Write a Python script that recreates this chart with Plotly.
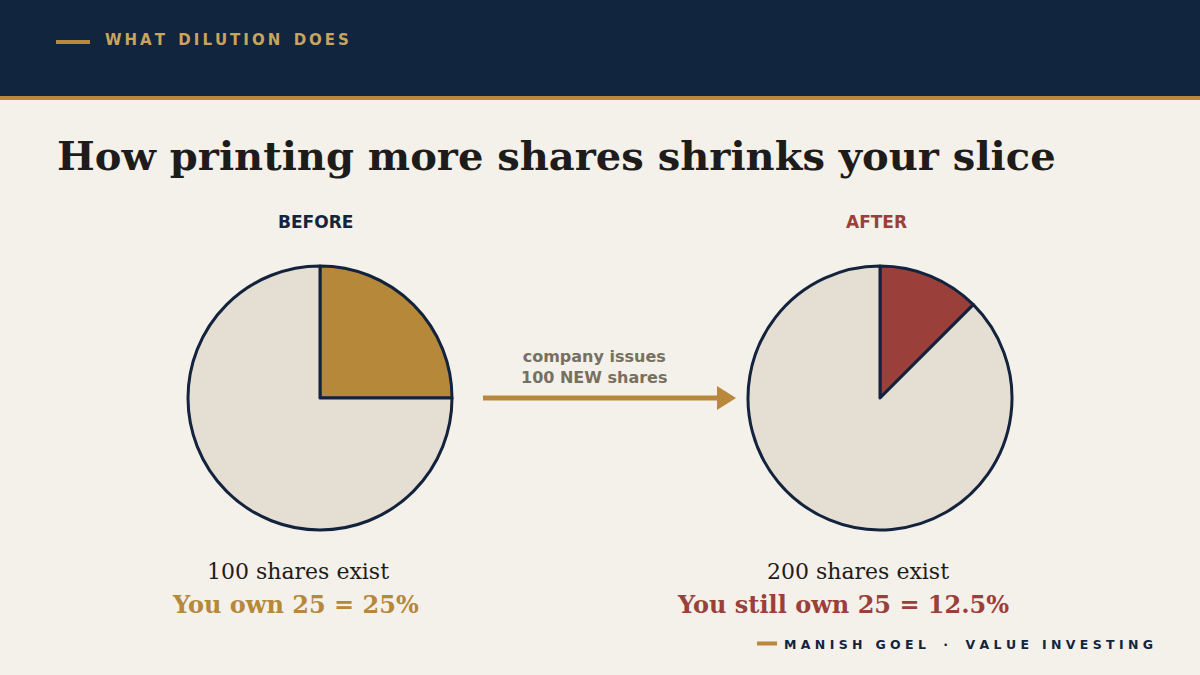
import plotly.graph_objects as go

W, H = 1200, 675
BG = "#F4F0EA"
NAVY = "#11253F"
GOLD = "#B5883A"
RED = "#9B3F3A"
BEIGE = "#E5DED2"
GREY = "#77705F"

# data
pie_labels = ["You", "Others"]
before_values = [25, 75]
after_values = [25, 175]
before_total = 100
after_total = 200
owned = 25

def px_x(x):
    return x / W

def px_y(y):
    return 1 - y / H

fig = go.Figure()

cx_before, cx_after, cy, r = 320, 880, 398, 132
for vals, cx, col in [(before_values, cx_before, GOLD), (after_values, cx_after, RED)]:
    fig.add_trace(go.Pie(
        labels=pie_labels, values=vals, sort=False, direction="clockwise", rotation=0,
        marker=dict(colors=[col, BEIGE], line=dict(color="#13233D", width=3)),
        textinfo="none", hoverinfo="label+value", showlegend=False,
        domain=dict(x=[px_x(cx - r), px_x(cx + r)], y=[px_y(cy + r), px_y(cy - r)]),
    ))

shapes = [
    dict(type="rect", xref="paper", yref="paper", x0=0, x1=1, y0=px_y(96), y1=1,
         fillcolor=NAVY, line_width=0, layer="below"),
    dict(type="rect", xref="paper", yref="paper", x0=0, x1=1, y0=px_y(100), y1=px_y(96),
         fillcolor="#B8893D", line_width=0, layer="below"),
    dict(type="line", xref="paper", yref="paper", x0=px_x(56), x1=px_x(90), y0=px_y(42), y1=px_y(42),
         line=dict(color="#B8893D", width=4)),
    dict(type="line", xref="paper", yref="paper", x0=px_x(757), x1=px_x(777), y0=px_y(643.5), y1=px_y(643.5),
         line=dict(color="#B8893D", width=4)),
    dict(type="line", xref="paper", yref="paper", x0=px_x(483), x1=px_x(720), y0=px_y(398), y1=px_y(398),
         line=dict(color="#B8893D", width=5)),
    dict(type="path", xref="paper", yref="paper",
         path=f"M {px_x(717)},{px_y(386)} L {px_x(736)},{px_y(398)} L {px_x(717)},{px_y(410)} Z",
         fillcolor="#B8893D", line_width=0),
]

def spaced(s, gap="\u2009", word=" \u2009 "):
    return word.join(gap.join(w) for w in s.split(" "))

SANS = "DejaVu Sans"
SERIF = "DejaVu Serif"
ann = []
def add(text, x, y, size, color, family, xanchor="center", bold=False):
    ann.append(dict(text=f"<b>{text}</b>" if bold else text, x=px_x(x), y=px_y(y), xref="paper", yref="paper",
                    xanchor=xanchor, yanchor="middle", showarrow=False,
                    font=dict(size=size, color=color, family=family)))

add(spaced("WHAT DILUTION DOES"), 103, 40, 15, "#C9A45E", SANS, "left", True)
add("How printing more shares shrinks your slice", 55, 155, 40, "#1E1C1A", SERIF, "left", True)
add("BEFORE", 316, 222, 17, NAVY, SANS, bold=True)
add("AFTER", 876, 222, 17, RED, SANS, bold=True)
add("company issues<br>100 NEW shares", 594, 367, 16, GREY, SANS, bold=True)
add(f"{before_total} shares exist", 298, 571, 22, "#1E1C1A", SERIF)
add(f"You own {owned} = {owned / before_total * 100:g}%", 295, 604, 24, GOLD, SERIF, bold=True)
add(f"{after_total} shares exist", 858, 571, 22, "#1E1C1A", SERIF)
add(f"You still own {owned} = {owned / after_total * 100:g}%", 843, 604, 24, RED, SERIF, bold=True)
footer = "M A N I S H   G O E L    ·    V A L U E   I N V E S T I N G"
add(footer, 782, 644, 12.5, NAVY, SANS, "left", True)

fig.update_layout(
    width=W, height=H, autosize=False,
    margin=dict(l=0, r=0, t=0, b=0),
    paper_bgcolor=BG, plot_bgcolor=BG,
    shapes=shapes, annotations=ann,
)

fig.write_html("out.html", config={"displayModeBar": False},
               post_script="document.body.style.margin='0';")
